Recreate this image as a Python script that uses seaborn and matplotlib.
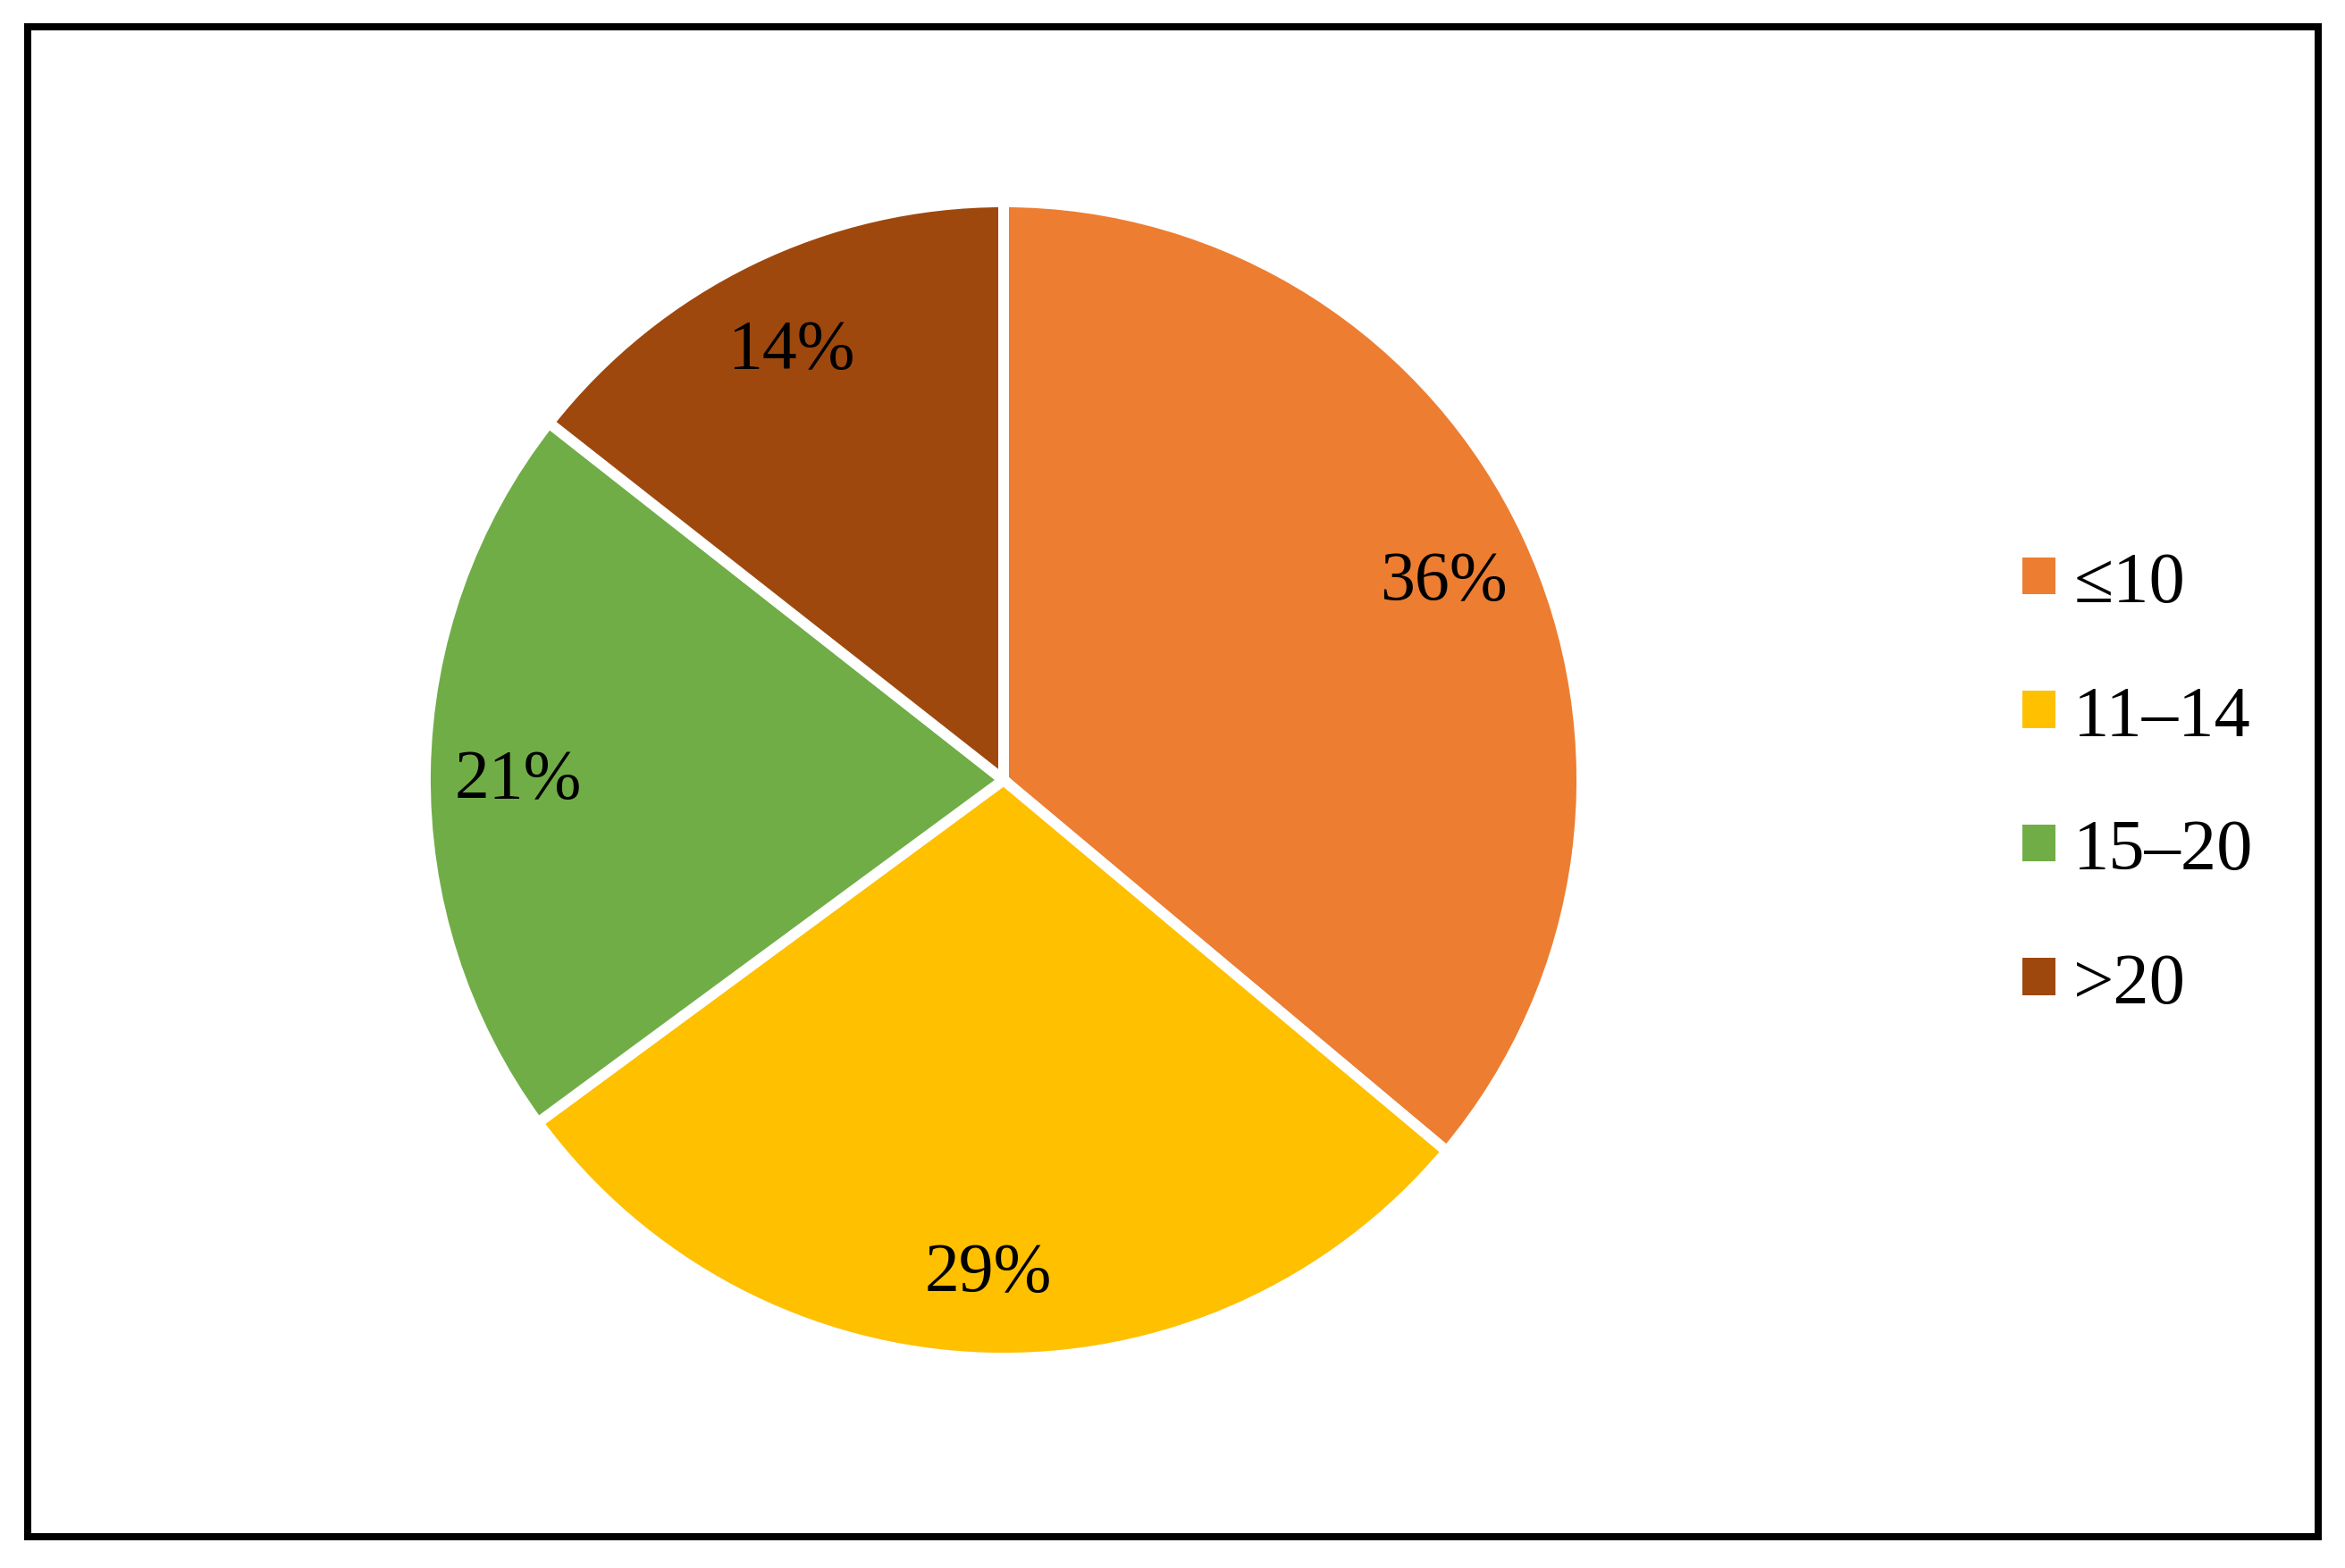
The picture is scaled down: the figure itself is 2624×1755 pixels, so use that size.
import matplotlib
matplotlib.use("Agg")
import matplotlib.pyplot as plt
from matplotlib.patches import Patch, Rectangle
import seaborn as sns

categories = ["≤10", "11–14", "15–20", ">20"]
values = [36.1, 28.8, 20.7, 14.4]
colors = ["#ED7D31", "#FFC000", "#70AD47", "#9E480E"]

sns.set_theme(style="white")
plt.rcParams['font.family'] = ['Liberation Serif', 'DejaVu Serif']
plt.rcParams['text.color'] = 'black'

DPI = 200
W, H = 2624, 1756
fig = plt.figure(figsize=(W / DPI, H / DPI), dpi=DPI)
fig.patch.set_facecolor("white")

# border
px = 1 / DPI * 72
border = Rectangle((31 / W, 1 - 1721 / H), (2594 - 31) / W, (1721 - 31) / H,
                   transform=fig.transFigure, fill=False, edgecolor="black",
                   linewidth=8 * px)
fig.patches.append(border)

cx, cy, R = 1123, 874, 641
ax = fig.add_axes([(cx - R) / W, 1 - (cy + R) / H, 2 * R / W, 2 * R / H])
palette = sns.color_palette(colors)
lw_px = 12
wedges, texts, autotexts = ax.pie(
    values, colors=palette, startangle=90, counterclock=False,
    autopct=lambda p: f"{p:.0f}%", pctdistance=0.84, radius=1.0,
    wedgeprops=dict(edgecolor="white", linewidth=lw_px * px),
    textprops=dict(fontsize=28, color="black"))
for t in autotexts:
    t.set_verticalalignment("center_baseline")
lim = 1.0 - (lw_px / 2) / R
ax.set_xlim(-lim, lim)
ax.set_ylim(-lim, lim)
ax.set_aspect("equal")
ax.axis("off")

handles = [Patch(facecolor=c, edgecolor="none") for c in palette]
leg = fig.legend(handles, categories, loc="center left",
                 bbox_to_anchor=(2263 / W, 1 - 879 / H), frameon=False,
                 fontsize=29, handlelength=0.46, handleheight=0.41,
                 handletextpad=0.25, labelspacing=0.95, borderpad=0,
                 borderaxespad=0, labelcolor="black")

fig.savefig("out.png", dpi=DPI, facecolor="white")
